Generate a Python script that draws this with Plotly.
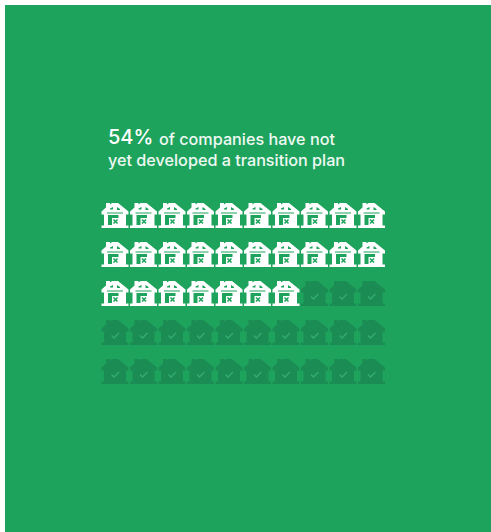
import plotly.graph_objects as go

# Share of companies without a transition plan, shown as a 50-icon pictogram
percent_without_plan = 54
icon_count = 50
icons_per_row = 10
headline_value = "54%"
headline_rest = "of companies have not"
headline_second_line = "yet developed a transition plan"

GREEN = "#1ea35c"
DARK = "#1c8c55"
TICK = "#33ad70"
WHITE = "#ffffff"
FONT = "Inter, Lato, sans-serif"

W, H = 491, 532
LEFT, TOP = 5, 5
PITCH_X, PITCH_Y = 28.5, 39.0
ORIGIN_X, ORIGIN_Y = 115.0, 215.0

# Icon outlines, in pixels around the centre of a grid cell (y points down)
HOUSE = [(-13.5, 13), (13.5, 13), (13.5, 10.5), (11, 10.5), (11, -0.5), (13.5, -0.5), (13.5, -3.5),
         (3, -12), (-3, -12), (-5, -10.5), (-5, -12), (-9, -12), (-9, -7.5), (-13.5, -3.5),
         (-13.5, -0.5), (-11, -0.5), (-11, 10.5), (-13.5, 10.5)]
ROOF_NOTCH_LEFT = [(-5, -6.5), (-2, -8), (-2, -5.5), (-5, -5.5)]
ROOF_NOTCH_RIGHT = [(2, -8), (5, -6), (5, -5), (2, -5)]
EAVE_GAP = [(-8, -2.5), (8, -2.5), (8, -1.5), (-8, -1.5)]
WINDOW = [(-7, 0), (3.5, 0), (3.5, 3), (-3, 3), (-3, 10), (-7, 10)]
CROSS_A = [(-1.5, 4.5), (2.5, 8.5)]
CROSS_B = [(2.5, 4.5), (-1.5, 8.5)]
TICK_MARK = [(-3.5, 3.5), (-1, 6), (4, 1)]


def place(outline, cells, closed=True):
    xs, ys = [], []
    for row, col in cells:
        pts = list(outline) + ([outline[0]] if closed else [])
        xs += [col + px / PITCH_X for px, _ in pts] + [None]
        ys += [row + py / PITCH_Y for _, py in pts] + [None]
    return xs, ys


filled_icons = percent_without_plan * icon_count // 100
cells = [(i // icons_per_row, i % icons_per_row) for i in range(icon_count)]
with_icon = cells[:filled_icons]
rest_icon = cells[filled_icons:]

fig = go.Figure()


def add_fill(outline, where, colour):
    x, y = place(outline, where)
    fig.add_trace(go.Scatter(x=x, y=y, mode="lines", fill="toself", fillcolor=colour,
                             line=dict(width=0, color=colour), hoverinfo="skip"))


def add_line(outline, where, colour, width):
    x, y = place(outline, where, closed=False)
    fig.add_trace(go.Scatter(x=x, y=y, mode="lines", line=dict(width=width, color=colour),
                             hoverinfo="skip"))


add_fill(HOUSE, rest_icon, DARK)
add_line(TICK_MARK, rest_icon, TICK, 1.3)

add_fill(HOUSE, with_icon, WHITE)
add_fill(ROOF_NOTCH_LEFT, with_icon, GREEN)
add_fill(ROOF_NOTCH_RIGHT, with_icon, GREEN)
add_fill(EAVE_GAP, with_icon, GREEN)
add_fill(WINDOW, with_icon, GREEN)
add_line(CROSS_A, with_icon, GREEN, 1.6)
add_line(CROSS_B, with_icon, GREEN, 1.6)

annotations = [
    dict(x=105.5 / W, y=1 - 137 / H, text=headline_value,
         font=dict(family=FONT, size=20, color=WHITE, weight=500)),
    dict(x=157 / W, y=1 - 139 / H, text=headline_rest,
         font=dict(family=FONT, size=16.2, color="#eef9f3", weight=500)),
    dict(x=105.5 / W, y=1 - 160 / H, text=headline_second_line,
         font=dict(family=FONT, size=16.2, color="#eef9f3", weight=500)),
]
for a in annotations:
    a.update(xref="paper", yref="paper", xanchor="left", yanchor="middle", showarrow=False)

fig.update_layout(
    width=W, height=H, autosize=False,
    margin=dict(l=0, r=0, t=0, b=0),
    paper_bgcolor=WHITE, plot_bgcolor=GREEN, showlegend=False,
    annotations=annotations,
    xaxis=dict(domain=[LEFT / W, 1], range=[(LEFT - ORIGIN_X) / PITCH_X, (W - ORIGIN_X) / PITCH_X],
               visible=False, fixedrange=True),
    yaxis=dict(domain=[0, 1 - TOP / H], range=[(H - ORIGIN_Y) / PITCH_Y, (TOP - ORIGIN_Y) / PITCH_Y],
               visible=False, fixedrange=True),
)

fig.write_html("out.html", config={"displayModeBar": False})
